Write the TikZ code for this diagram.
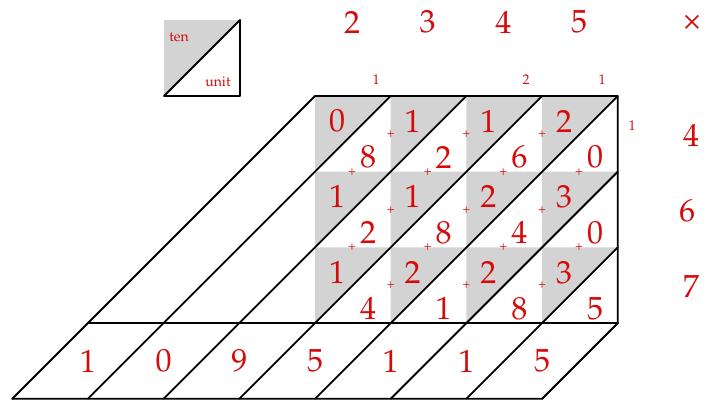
\documentclass[tikz,border=0pt]{standalone}
\usepackage[T1]{fontenc}
\usepackage{textcomp}
\usepackage{mathpazo}
\usepackage{tikz}
\definecolor{digred}{RGB}{214,10,10}
\definecolor{cellgray}{RGB}{211,211,211}
\tikzset{
  big/.style={text=digred, font=\fontsize{32}{36}\selectfont, inner sep=0pt},
  carry/.style={text=digred, font=\fontsize{14}{17}\selectfont, inner sep=0pt},
  plus/.style={text=digred, font=\fontsize{13}{14}\selectfont, inner sep=0pt},
  legend/.style={text=digred, font=\fontsize{14}{17}\selectfont, inner sep=0pt},
  gridline/.style={line width=1.8pt, line cap=round, line join=round},
}
\begin{document}
\begin{tikzpicture}[x=1pt,y=-1pt]
\useasboundingbox (0,0) rectangle (704,402);
\def\c{75.7}
% gray triangles
\foreach \i in {0,...,3}{
  \foreach \j in {0,...,2}{
    \fill[cellgray] ({315+\i*\c},{96+\j*\c}) -- ({315+(\i+1)*\c},{96+\j*\c}) -- ({315+\i*\c},{96+(\j+1)*\c}) -- cycle;
  }
}
% legend
\fill[cellgray] (164,20) -- (240,20) -- (164,96) -- cycle;
\coordinate (lA) at (164,96);
\coordinate (lB) at (240,20);
\coordinate (lC) at (240,96);
\draw[gridline] (lA) -- (lB) -- (lC) -- cycle;
\node[legend] (ten) at (179,37) {ten};
\node[legend] (unit) at (218,82) {unit};
% grid frame
\coordinate (TL) at (315,96);
\coordinate (TR) at ({315+4*\c},96);
\coordinate (BR) at ({315+4*\c},{96+3*\c});
\coordinate (BL) at ({315-3*\c},{96+3*\c});
\coordinate (BBR) at ({315+3*\c},{96+4*\c});
\coordinate (BBL) at ({315-4*\c},{96+4*\c});
\draw[gridline] (TL) -- (TR) -- (BR) -- (BBR) -- (BBL);
\draw[gridline] (BL) -- (BR);
% diagonals from top edge
\foreach \i in {0,...,4}{
  \draw[gridline] ({315+\i*\c},96) -- ({315+(\i-3)*\c},{96+3*\c});
}
% diagonals from right edge
\foreach \j in {1,2}{
  \draw[gridline] ({315+4*\c},{96+\j*\c}) -- ({315+(4-3+\j)*\c},{96+3*\c});
}
% bottom row diagonals
\foreach \k in {0,...,7}{
  \draw[gridline] ({315+(\k-3)*\c},{96+3*\c}) -- ({315+(\k-4)*\c},{96+4*\c});
}
% cell digits
\foreach \i/\j/\t/\u in {0/0/0/8,1/0/1/2,2/0/1/6,3/0/2/0,
                         0/1/1/2,1/1/1/8,2/1/2/4,3/1/3/0,
                         0/2/1/4,1/2/2/1,2/2/2/8,3/2/3/5}{
  \node[big] (t\i\j) at ({315+\i*\c+22},{96+\j*\c+25}) {\t};
  \node[big] (u\i\j) at ({315+\i*\c+53},{96+\j*\c+61}) {\u};
}
% pluses
\foreach \i in {1,2,3}{
  \foreach \j in {0,1,2}{
    \node[plus] (pv\i\j) at ({315+\i*\c},{96+\j*\c+38}) {+};
  }
}
\foreach \i in {0,...,3}{
  \foreach \j in {1,2}{
    \node[plus] (ph\i\j) at ({315+\i*\c+37},{96+\j*\c}) {+};
  }
}
% carries
\node[carry] (c1) at (376,80) {1};
\node[carry] (c2) at (526,80) {2};
\node[carry] (c3) at (602,80) {1};
\node[carry] (c4) at (632,126) {1};
% multiplicand
\foreach \d [count=\n from 0] in {2,3,4,5}{
  \node[big] (m\n) at ({315+\n*\c+37},22) {\d};
}
\node[big] (times) at (692,23) {\texttimes};
% multiplier
\node[big] (r0) at (691,135) {4};
\node[big] (r1) at (687,211) {6};
\node[big] (r2) at (691,286) {7};
% result
\foreach \d [count=\n from 0] in {1,0,9,5,1,1,5}{
  \node[big] (res\n) at ({315+(\n-3)*\c},361) {\d};
}
\end{tikzpicture}
\end{document}
